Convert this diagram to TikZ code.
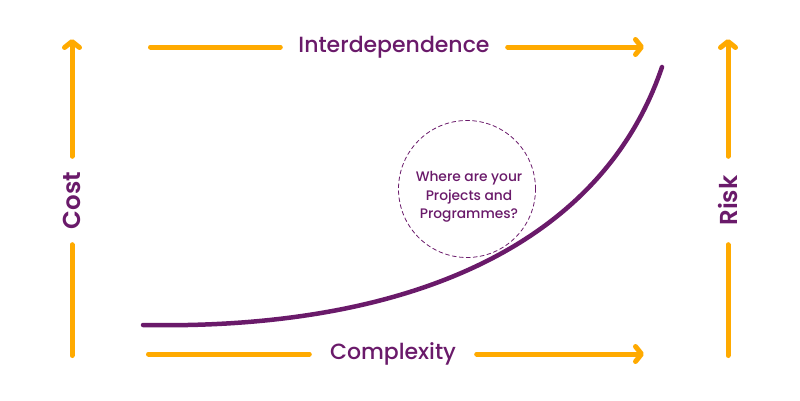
\documentclass[tikz,border=0pt]{standalone}
\usepackage{fontspec}
\setmainfont{Poppins}[UprightFont=* Medium, BoldFont=* SemiBold]
\usetikzlibrary{arrows.meta}
\definecolor{plum}{RGB}{106,26,106}
\definecolor{amber}{RGB}{255,170,0}

\begin{document}
\begin{tikzpicture}[x=1pt, y=-1pt, line cap=round, line join=round,
  axis/.style={draw=amber, line width=5pt},
  axistip/.style={axis, -{Straight Barb[length=6pt,width=15pt,round]}},
  axislabel/.style={text=plum, inner sep=0pt, font=\fontsize{22}{26}\selectfont},
  sidelabel/.style={axislabel, rotate=90, font=\fontsize{24.5}{28}\selectfont\bfseries}]

  %% ════ labels ════
  \node[axislabel, minimum width=227] (inter) at (394,47) {Interdependence};
  \node[axislabel, minimum width=167] (compl) at (393,354) {Complexity};
  \node[sidelabel, minimum width=88] (cost) at (72,200.5) {Cost};
  \node[sidelabel, minimum width=88] (risk) at (728,200.5) {Risk};

  %% ════ axis ends ════
  \coordinate (interL) at (150.5,47);  \coordinate (interR) at (644,47);
  \coordinate (complL) at (148.5,354); \coordinate (complR) at (644,354);
  \coordinate (costB) at (72,355.5);   \coordinate (costT) at (72,39);
  \coordinate (riskB) at (728,355.5);  \coordinate (riskT) at (728,39);

  %% ════ axes, split round the labels ════
  \draw[axis] (interL) -- (inter.west);
  \draw[axistip] (inter.east) -- (interR);
  \draw[axis] (complL) -- (compl.west);
  \draw[axistip] (compl.east) -- (complR);
  \draw[axis] (costB) -- (cost.west);
  \draw[axistip] (cost.east) -- (costT);
  \draw[axis] (riskB) -- (risk.west);
  \draw[axistip] (risk.east) -- (riskT);

  %% ════ growth curve ════
  \coordinate (low) at (143,325);
  \coordinate (high) at (662,67);
  \draw[plum, line width=4.5pt] (low) .. controls (400,330) and (600,250) .. (high);

  %% ════ dashed circle + question ════
  \node[circle, draw=plum, line width=0.8pt, dash pattern=on 4pt off 3pt,
        minimum size=137, inner sep=0pt] (spot) at (467,189) {};
  \node[text=plum, align=center, font=\fontsize{13.8}{18.3}\selectfont] (ask) at (469,197)
    {Where are your\\Projects and\\Programmes?};

  % fix the canvas
  \pgfresetboundingbox
  \path[use as bounding box] (0,0) rectangle (800,400);
\end{tikzpicture}
\end{document}
